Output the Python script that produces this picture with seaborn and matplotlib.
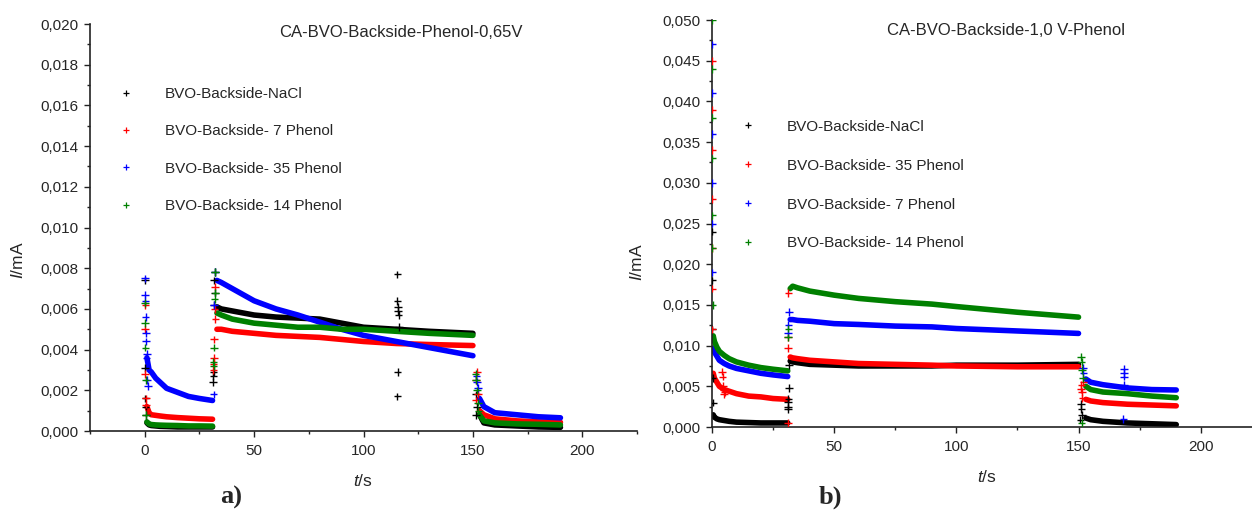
import numpy as np
import pandas as pd
import matplotlib.pyplot as plt
import seaborn as sns
from matplotlib.lines import Line2D
from matplotlib.ticker import MultipleLocator

# --- Daten: Panel a) 0,65 V ---
t_a = [1, 2, 3, 5, 7, 10, 15, 20, 25, 31,
       33, 35, 40, 45, 50, 55, 60, 70, 80, 90, 100, 115, 130, 150,
       153, 155, 160, 170, 180, 190]
a_nacl = [0.0004, 0.0003, 0.00027, 0.00025, 0.00023, 0.00022, 0.0002, 0.0002, 0.0002, 0.0002,
          0.0061, 0.0060, 0.0059, 0.0058, 0.0057, 0.00565, 0.0056, 0.00555, 0.0055, 0.0053, 0.0051, 0.0050, 0.0049, 0.0048,
          0.0008, 0.0004, 0.0003, 0.00025, 0.0002, 0.00018]
a_ph7 = [0.0012, 0.0009, 0.0008, 0.00077, 0.00074, 0.0007, 0.00066, 0.00063, 0.0006, 0.00058,
         0.0050, 0.0050, 0.0049, 0.00485, 0.0048, 0.00475, 0.0047, 0.00465, 0.0046, 0.0045, 0.0044, 0.0043, 0.00425, 0.0042,
         0.0010, 0.0008, 0.0006, 0.0005, 0.00045, 0.00043]
a_ph35 = [0.0036, 0.0030, 0.0029, 0.0026, 0.0024, 0.0021, 0.0019, 0.0017, 0.0016, 0.0015,
          0.0074, 0.0073, 0.0070, 0.0067, 0.0064, 0.0062, 0.0060, 0.0057, 0.00535, 0.0050, 0.0047, 0.0044, 0.0041, 0.0037,
          0.0016, 0.0012, 0.0009, 0.0008, 0.0007, 0.00065]
a_ph14 = [0.00045, 0.00035, 0.00032, 0.0003, 0.00029, 0.00028, 0.00027, 0.00025, 0.00025, 0.00024,
          0.0058, 0.0057, 0.0055, 0.0054, 0.0053, 0.00525, 0.0052, 0.0051, 0.0051, 0.0050, 0.0050, 0.0049, 0.0048, 0.0047,
          0.0008, 0.0005, 0.0004, 0.00035, 0.00033, 0.0003]

# Einzelpunkte (Schaltspitzen, Ausreisser)
a_nacl_st = [0.1, 0.2, 0.3, 0.4, 0.6, 31.3, 31.4, 31.5, 31.7, 31.8, 32, 32.2,
             115.5, 115.5, 115.7, 115.8, 116, 116.2, 115.6, 115.5, 151.3, 151.5, 152]
a_nacl_si = [0.0074, 0.0031, 0.0016, 0.0012, 0.0008, 0.0024, 0.0027, 0.0029, 0.0062, 0.0074, 0.0078, 0.0068,
             0.0077, 0.0064, 0.0061, 0.0059, 0.0057, 0.0051, 0.0029, 0.0017, 0.0018, 0.0008, 0.0012]
a_ph7_st = [0.1, 0.2, 0.3, 0.5, 0.7, 31.4, 31.5, 31.6, 31.7, 31.9, 32.1, 32.3, 151.2, 151.5, 151.8, 152.2]
a_ph7_si = [0.0028, 0.0050, 0.0062, 0.0016, 0.0013, 0.0030, 0.0033, 0.0036, 0.0045, 0.0060, 0.0071, 0.0055,
            0.0015, 0.0025, 0.0029, 0.0018]
a_ph35_st = [0.1, 0.2, 0.3, 0.4, 0.5, 0.6, 0.8, 1.0, 1.2, 1.4, 31.5, 31.7, 32, 151.6, 152, 152.4]
a_ph35_si = [0.0075, 0.0067, 0.0064, 0.0056, 0.0048, 0.0044, 0.0036, 0.0038, 0.0025, 0.0022,
             0.0018, 0.0062, 0.0078, 0.0027, 0.0024, 0.0021]
a_ph14_st = [0.1, 0.2, 0.3, 0.4, 0.5, 31.4, 31.5, 31.7, 31.9, 32.1, 32.3, 151.2, 151.5, 151.8, 152.2, 152.5]
a_ph14_si = [0.0063, 0.0053, 0.0041, 0.0025, 0.0008, 0.0034, 0.0032, 0.0041, 0.0065, 0.0078, 0.0068,
             0.0028, 0.0025, 0.0020, 0.0014, 0.0010]

# --- Daten: Panel b) 1,0 V ---
t_b = [0.5, 1, 2, 3, 5, 7, 10, 15, 20, 25, 31,
       32, 33, 35, 40, 50, 60, 75, 90, 100, 125, 150,
       153, 155, 160, 170, 180, 190]
b_nacl = [0.0015, 0.0012, 0.0010, 0.0009, 0.0008, 0.0007, 0.0006, 0.00055, 0.0005, 0.0005, 0.0005,
          0.0081, 0.0080, 0.0079, 0.0077, 0.0076, 0.0075, 0.0075, 0.0075, 0.0076, 0.0076, 0.0077,
          0.0011, 0.0009, 0.0007, 0.0005, 0.0004, 0.0003]
b_ph35 = [0.0066, 0.0060, 0.0055, 0.0050, 0.0046, 0.0044, 0.0041, 0.0038, 0.0037, 0.0035, 0.0034,
          0.0086, 0.0085, 0.0084, 0.0082, 0.0080, 0.0078, 0.0077, 0.0076, 0.0075, 0.0074, 0.0074,
          0.0034, 0.0032, 0.0030, 0.0028, 0.0027, 0.0026]
b_ph7 = [0.0097, 0.0092, 0.0087, 0.0082, 0.0078, 0.0075, 0.0072, 0.0069, 0.0066, 0.0064, 0.0062,
         0.0132, 0.0132, 0.0131, 0.0130, 0.0127, 0.0126, 0.0124, 0.0123, 0.0121, 0.0118, 0.0115,
         0.0059, 0.0055, 0.0052, 0.0048, 0.0046, 0.00455]
b_ph14 = [0.0112, 0.0105, 0.0098, 0.0093, 0.0088, 0.0084, 0.0080, 0.0076, 0.0073, 0.0071, 0.0069,
          0.0170, 0.0173, 0.0171, 0.0167, 0.0162, 0.0158, 0.0154, 0.0151, 0.0148, 0.0141, 0.0135,
          0.0050, 0.0046, 0.0043, 0.0041, 0.0038, 0.0036]

b_nacl_st = [0.05, 0.1, 0.15, 0.2, 0.3, 31, 31.1, 31.2, 31.3, 31.4, 31.5, 150.8, 151, 151.2, 151.5]
b_nacl_si = [0.024, 0.018, 0.012, 0.006, 0.003, 0.0022, 0.0025, 0.0031, 0.0035, 0.0048, 0.0076,
             0.0009, 0.0028, 0.0022, 0.0015]
b_ph35_st = [0.02, 0.04, 0.06, 0.08, 0.1, 0.12, 0.15, 4, 4.3, 4.6, 5, 5.3, 4.8,
             31, 31.1, 31.2, 31.3, 151, 151.2, 151.4, 151.6, 152]
b_ph35_si = [0.045, 0.039, 0.034, 0.028, 0.022, 0.017, 0.012, 0.0068, 0.0062, 0.0051, 0.0046, 0.0043, 0.0040,
             0.0005, 0.0097, 0.011, 0.0165, 0.0047, 0.0052, 0.0043, 0.0036, 0.0055]
b_ph7_st = [0.03, 0.06, 0.09, 0.12, 0.15, 0.18, 31.1, 31.3, 31.4, 151.8, 152,
            168.5, 168.5, 168.6, 168.5, 168.4]
b_ph7_si = [0.047, 0.041, 0.036, 0.030, 0.025, 0.019, 0.0115, 0.0125, 0.0141, 0.0073, 0.0066,
            0.0071, 0.0066, 0.0062, 0.0052, 0.0010]
b_ph14_st = [0.02, 0.05, 0.08, 0.1, 0.13, 0.16, 0.2, 31.2, 31.3, 151, 151.3, 151.5, 151.8, 151.3]
b_ph14_si = [0.050, 0.044, 0.038, 0.033, 0.026, 0.022, 0.015, 0.0110, 0.0121,
             0.0086, 0.0080, 0.0070, 0.0060, 0.0005]

names_a = ['BVO-Backside-NaCl', 'BVO-Backside- 7 Phenol', 'BVO-Backside- 35 Phenol', 'BVO-Backside- 14 Phenol']
names_b = ['BVO-Backside-NaCl', 'BVO-Backside- 35 Phenol', 'BVO-Backside- 7 Phenol', 'BVO-Backside- 14 Phenol']
colors = ['#000000', '#ff0000', '#0000ff', '#008000']


def band_frame(times, names, curves):
    parts = []
    for name, vals in zip(names, curves):
        parts.append(pd.DataFrame({'t': times, 'i': vals, 'sample': name,
                                   'phase': np.digitize(times, [31.5, 151.3])}))
    return pd.concat(parts, ignore_index=True)


def spike_frame(names, ts, iis):
    parts = [pd.DataFrame({'t': t, 'i': i, 'sample': n}) for n, t, i in zip(names, ts, iis)]
    return pd.concat(parts, ignore_index=True)


def draw_panel(ax, band, spikes, names, title, title_xy, leg_xy, spacing):
    pal = dict(zip(names, colors))
    sns.lineplot(data=band, x='t', y='i', hue='sample', units='phase', estimator=None,
                 sort=False, palette=pal, lw=4.0, legend=False, ax=ax)
    sns.scatterplot(data=spikes, x='t', y='i', hue='sample', palette=pal, marker='+',
                    s=30, linewidth=1.0, legend=False, ax=ax, zorder=3)
    handles = [Line2D([], [], marker='+', ls='none', color=c, markersize=5, mew=0.9) for c in colors]
    ax.legend(handles, names, loc='upper left', bbox_to_anchor=leg_xy, frameon=False,
              fontsize=11, handlelength=1, handletextpad=2.05, labelspacing=spacing,
              borderpad=0, borderaxespad=0)
    ax.text(title_xy[0], title_xy[1], title, transform=ax.transAxes, ha='center',
            va='center', fontsize=12)
    sns.despine(ax=ax)
    for s in ['left', 'bottom']:
        ax.spines[s].set_linewidth(1.2)
        ax.spines[s].set_color('#222222')
    ax.tick_params(which='major', length=4.5, width=1.0, labelsize=11, color='#222222')
    ax.tick_params(axis='x', which='major', pad=5)
    ax.tick_params(which='minor', length=2.5, width=1.0, color='#222222')
    ax.xaxis.set_major_locator(MultipleLocator(50))
    ax.xaxis.set_minor_locator(MultipleLocator(25))
    ax.set_xlabel(r'$\mathit{t}$/s', fontsize=12.5)
    ax.set_ylabel(r'$\mathit{I}$/mA', fontsize=12.5)


sns.set_theme(style='ticks')
plt.rcParams['font.family'] = ['Liberation Sans', 'DejaVu Sans']
plt.rcParams['mathtext.fontset'] = 'custom'
plt.rcParams['mathtext.rm'] = 'Liberation Sans'
plt.rcParams['mathtext.it'] = 'Liberation Sans:italic'

fig = plt.figure(figsize=(12.52, 5.13), dpi=100)
ax1 = fig.add_axes([0.0719, 0.1598, 0.4369, 0.7934])
ax2 = fig.add_axes([0.5687, 0.1676, 0.4313, 0.7934])

band_a = band_frame(t_a, names_a, [a_nacl, a_ph7, a_ph35, a_ph14])
spk_a = spike_frame(names_a, [a_nacl_st, a_ph7_st, a_ph35_st, a_ph14_st],
                    [a_nacl_si, a_ph7_si, a_ph35_si, a_ph14_si])
draw_panel(ax1, band_a, spk_a, names_a, 'CA-BVO-Backside-Phenol-0,65V', (0.569, 0.98),
           (0.051, 0.845), 1.53)
ax1.set_xlim(-25, 225)
ax1.set_ylim(0, 0.020)
yt_a = np.arange(0, 0.0201, 0.002)
ax1.set_yticks(yt_a)
ax1.set_yticklabels([f'{v:.3f}'.replace('.', ',') for v in yt_a])
ax1.yaxis.set_minor_locator(MultipleLocator(0.001))
ax1.yaxis.set_label_coords(-0.117, 0.42)
ax1.xaxis.set_label_coords(0.499, -0.104)

band_b = band_frame(t_b, names_b, [b_nacl, b_ph35, b_ph7, b_ph14])
spk_b = spike_frame(names_b, [b_nacl_st, b_ph35_st, b_ph7_st, b_ph14_st],
                    [b_nacl_si, b_ph35_si, b_ph7_si, b_ph14_si])
draw_panel(ax2, band_b, spk_b, names_b, 'CA-BVO-Backside-1,0 V-Phenol', (0.544, 0.975),
           (0.052, 0.755), 1.63)
ax2.set_xlim(0, 221)
ax2.set_ylim(0, 0.050)
yt_b = np.arange(0, 0.0501, 0.005)
ax2.set_yticks(yt_b)
ax2.set_yticklabels([f'{v:.3f}'.replace('.', ',') for v in yt_b])
ax2.yaxis.set_minor_locator(MultipleLocator(0.0025))
ax2.yaxis.set_label_coords(-0.125, 0.405)
ax2.xaxis.set_label_coords(0.509, -0.104)

fig.text(0.185, 0.031, 'a)', fontsize=19, fontweight='bold', family='Liberation Serif', ha='center', va='center')
fig.text(0.663, 0.031, 'b)', fontsize=19, fontweight='bold', family='Liberation Serif', ha='center', va='center')

fig.savefig('out.png', dpi=100)
